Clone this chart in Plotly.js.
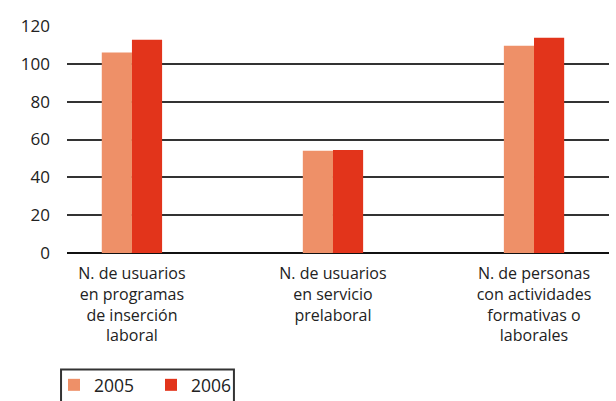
<!DOCTYPE html>
<html><head><meta charset="utf-8">
<script src="https://cdn.plot.ly/plotly-3.0.1.min.js"></script>
<style>body{margin:0;background:#fff}#c{width:616px;height:401px}</style>
</head><body><div id="c"></div>
<script>
const categories = ["N. de usuarios<br>en programas<br>de inserción<br>laboral", "N. de usuarios<br>en servicio<br>prelaboral", "N. de personas<br>con actividades<br>formativas o<br>laborales"];
const values2005 = [106, 54, 109.5];
const values2006 = [112.7, 54.5, 113.8];
const seriesNames = ["2005", "2006"];
const yTicks = [0, 20, 40, 60, 80, 100, 120];

const xIdx = categories.map((c, i) => i);
const font = "Open Sans, Noto Sans, sans-serif";
const data = [
  {type: "bar", name: seriesNames[0], x: xIdx, y: values2005, marker: {color: "#EE9068"}},
  {type: "bar", name: seriesNames[1], x: xIdx, y: values2006, marker: {color: "#E2341B"}}
];
const layout = {
  width: 616, height: 401,
  margin: {l: 67, r: 7, t: 26, b: 148, autoexpand: false},
  paper_bgcolor: "#fff", plot_bgcolor: "#fff",
  barmode: "group", bargap: 0.7, bargroupgap: 0,
  font: {family: font, color: "#222"},
  xaxis: {
    range: [-0.323, 2.373], tickvals: xIdx, ticktext: categories,
    showgrid: false, zeroline: false, showline: false, ticks: "",
    ticklabelstandoff: 9,
    tickfont: {size: 16, color: "#222"}, fixedrange: true, automargin: false
  },
  yaxis: {
    range: [0, 120], tickvals: yTicks, showgrid: true, gridcolor: "#333", gridwidth: 2,
    zeroline: true, zerolinecolor: "#111", zerolinewidth: 2,
    ticks: "", ticklabelstandoff: 16, tickfont: {size: 17, color: "#222"}, fixedrange: true, automargin: false
  },
  showlegend: true,
  legend: {
    orientation: "h", x: -0.024, xanchor: "left", y: -0.502, yanchor: "top",
    borderwidth: 0, bgcolor: "rgba(0,0,0,0)",
    font: {size: 17.5, color: "#222"}, entrywidth: 52, traceorder: "normal"
  },
  shapes: [{
    type: "path", xref: "paper", yref: "paper", layer: "above",
    path: "M -0.011 -0.75 L -0.011 -0.513 L 0.308 -0.513 L 0.308 -0.75",
    line: {color: "#333", width: 2}
  }]
};
Plotly.newPlot("c", data, layout, {displayModeBar: false, staticPlot: true});
</script></body></html>
